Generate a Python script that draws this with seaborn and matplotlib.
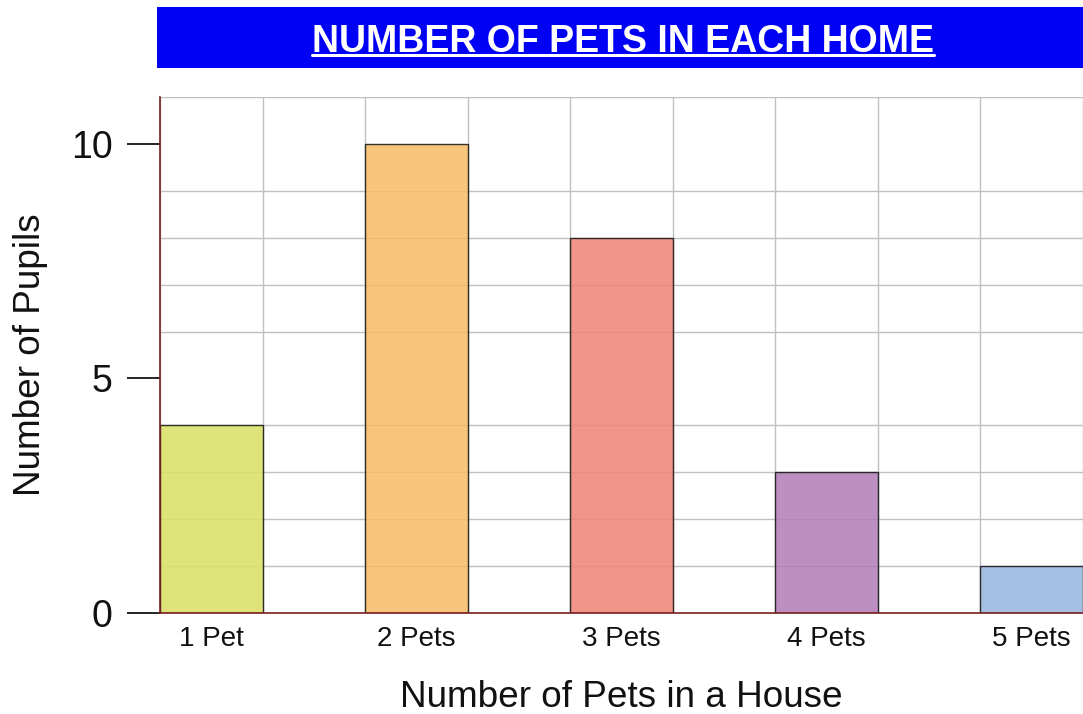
import numpy as np
import pandas as pd
import matplotlib
matplotlib.use("Agg")
import matplotlib.pyplot as plt
import seaborn as sns
from matplotlib.patches import Rectangle
from matplotlib.lines import Line2D
from matplotlib.colors import to_rgb

# Data
categories = ["1 Pet", "2 Pets", "3 Pets", "4 Pets", "5 Pets"]
pupils = [4, 10, 8, 3, 1]
bar_colors = ["#dfe47a", "#f8c57d", "#f0968a", "#bd8fc0", "#a5bfe4"]
title_text = "NUMBER OF PETS IN EACH HOME"
x_label = "Number of Pets in a House"
y_label = "Number of Pupils"

sns.set_theme(style="white")
plt.rcParams["font.family"] = ["Liberation Sans", "DejaVu Sans"]

W, H = 1083, 714
fig = plt.figure(figsize=(W / 100, H / 100), dpi=100)
ax = fig.add_axes([160 / W, (H - 613) / H, (1083 - 160) / W, (613 - 97) / H])

# translucent fills so the grid shows faintly through the bars
alpha = 0.85
base = [tuple(np.clip((np.array(to_rgb(c)) - (1 - alpha)) / alpha, 0, 1)) for c in bar_colors]

df = pd.DataFrame({"cat": categories, "n": pupils})
sns.barplot(data=df, x="cat", y="n", hue="cat", palette=base, legend=False,
            width=0.5, saturation=1, alpha=alpha, edgecolor="#111111",
            linewidth=1.0, ax=ax, zorder=3)

ax.set_xlim(-0.25, 4.225)
ax.set_ylim(0, 11)

ax.set_xticks(range(len(categories)))
ax.set_xticklabels(categories)
ax.set_xticks(np.arange(-0.25, 4.3, 0.5), minor=True)
ax.set_yticks([0, 5, 10])
ax.set_yticks(range(0, 12), minor=True)

ax.set_axisbelow(True)
ax.grid(which="minor", axis="both", color="#c0c0c0", linewidth=1.0, zorder=0)
ax.grid(which="major", axis="both", visible=False)

ax.tick_params(axis="x", which="both", length=0, labelsize=20, pad=9, labelcolor="#111111")
ax.tick_params(axis="y", which="major", length=24, width=1.2, color="black",
               labelsize=27, pad=10, left=True, labelcolor="#111111")
ax.tick_params(axis="y", which="minor", length=0)

for side in ["top", "right"]:
    ax.spines[side].set_visible(False)
for side in ["left", "bottom"]:
    ax.spines[side].set_color("#7a1f1f")
    ax.spines[side].set_linewidth(1.2)
    ax.spines[side].set_zorder(4)

ax.set_xlabel(x_label, fontsize=26.6, color="#111111")
ax.set_ylabel(y_label, fontsize=26.6, color="#111111")
ax.xaxis.set_label_coords(0.5, -(680 - 613) / 516)
ax.yaxis.set_label_coords(-(160 - 48) / 923, 0.5)

# title banner
fig.patches.append(Rectangle((157 / W, (H - 68) / H), (W - 157) / W + 0.01, 61 / H,
                             transform=fig.transFigure, facecolor="#0000f5",
                             edgecolor="none", zorder=0))
t = fig.text(623 / W, (H - 52) / H, title_text, ha="center", va="baseline",
             color="white", fontsize=27, fontweight="bold")

fig.canvas.draw()
bb = t.get_window_extent(renderer=fig.canvas.get_renderer())
uy = (H - 55) / H
fig.add_artist(Line2D([bb.x0 / W, bb.x1 / W], [uy, uy], transform=fig.transFigure,
                      color="white", linewidth=2.2))

fig.savefig("out.png", dpi=100)
